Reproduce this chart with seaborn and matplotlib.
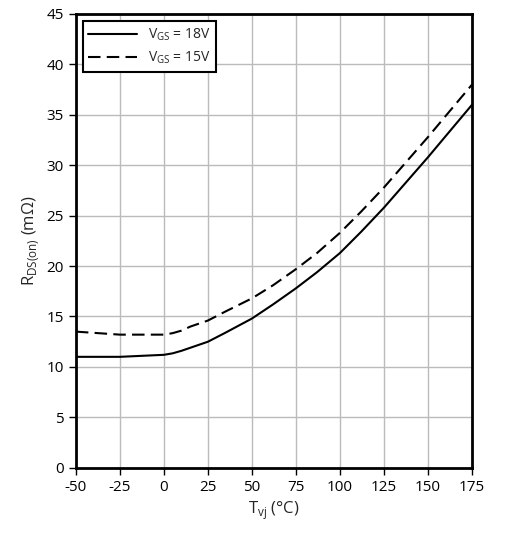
import matplotlib
matplotlib.use("Agg")
import matplotlib.pyplot as plt
import seaborn as sns
import pandas as pd

temps = [-50, -25, 0, 5, 10, 15, 25, 35, 50, 62, 75, 87, 100, 112, 125, 137, 150, 162, 175]
r_18v = [11.0, 11.0, 11.2, 11.35, 11.6, 11.9, 12.5, 13.4, 14.8, 16.2, 17.8, 19.4, 21.3, 23.4, 25.8, 28.2, 30.8, 33.3, 36.0]
r_15v = [13.5, 13.2, 13.2, 13.35, 13.6, 14.0, 14.6, 15.5, 16.8, 18.1, 19.7, 21.3, 23.3, 25.4, 27.8, 30.2, 32.8, 35.3, 38.0]
xticks = list(range(-50, 176, 25))
yticks = list(range(0, 46, 5))

sns.set_style("white")
plt.rcParams['font.family'] = ['Open Sans', 'DejaVu Sans']
plt.rcParams['axes.unicode_minus'] = False

fig = plt.figure(figsize=(5.06, 5.34), dpi=100)
ax = fig.add_axes([0.150, 0.124, 0.783, 0.850])

df = pd.DataFrame({"T": temps * 2, "R": r_18v + r_15v,
                   "s": ["18"] * len(temps) + ["15"] * len(temps)})
sns.lineplot(data=df[df.s == "18"], x="T", y="R", ax=ax, color="black", lw=1.5,
             label=r"V$_{\mathregular{GS}}$ = 18V")
sns.lineplot(data=df[df.s == "15"], x="T", y="R", ax=ax, color="black", lw=1.5,
             linestyle=(0, (6, 3)), label=r"V$_{\mathregular{GS}}$ = 15V")

ax.set_xlim(-50, 175)
ax.set_ylim(0, 45)
ax.set_xticks(xticks)
ax.set_yticks(yticks)
ax.grid(True, color="#bbbbbb", lw=1)
for s in ax.spines.values():
    s.set_linewidth(2)
    s.set_color("black")
ax.tick_params(axis="both", direction="out", length=5, width=1, labelsize=11,
               left=True, bottom=True, colors="black")
ax.set_xlabel(r"T$_{\mathregular{vj}}$ (°C)", fontsize=12)
ax.set_ylabel(r"R$_{\mathregular{DS(on)}}$ (mΩ)", fontsize=12)
leg = ax.legend(loc="upper left", fontsize=10, frameon=True, fancybox=False,
                edgecolor="black", framealpha=1, handlelength=3.5)
leg.get_frame().set_linewidth(1.5)
fig.savefig("out.png", dpi=100)
